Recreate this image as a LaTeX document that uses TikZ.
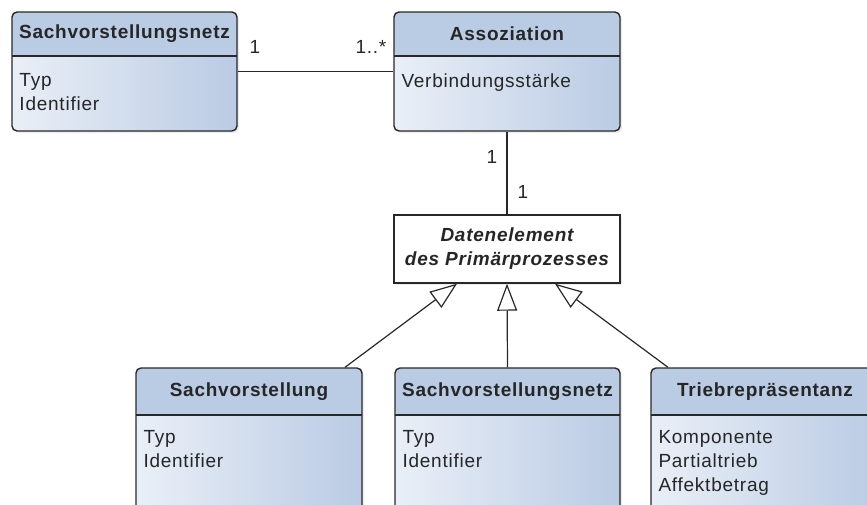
\documentclass[tikz,border=0pt]{standalone}
\usepackage{fontspec}
\setmainfont{Liberation Sans}[LetterSpace=4]
\usetikzlibrary{arrows.meta,shadows}
\definecolor{headblue}{RGB}{185,204,228}
\definecolor{bodylight}{RGB}{234,239,247}
\definecolor{bodyblue}{RGB}{186,203,228}
\definecolor{edgegray}{RGB}{40,40,40}

\begin{document}
\begin{tikzpicture}[x=1pt,y=-1pt,font=\fontsize{19}{24}\selectfont,text=black!85,
 cls/.style={draw=edgegray,line width=1.4pt,rounded corners=5pt,inner sep=0pt,
  left color=bodylight,right color=bodyblue,
  drop shadow={opacity=.15,shadow xshift=2pt,shadow yshift=-2pt},
  path picture={
   \fill[headblue] (path picture bounding box.north west) rectangle ([yshift=-#1]path picture bounding box.north east);
   \draw[edgegray,line width=1.4pt] ([yshift=-#1]path picture bounding box.north west) -- ([yshift=-#1]path picture bounding box.north east);}},
 cls/.default=44pt,
 head/.style={font=\fontsize{19}{24}\selectfont\bfseries,inner sep=0pt},
 attr/.style={align=left,inner sep=0pt,anchor=north west},
 mult/.style={inner sep=0pt},
 link/.style={draw=edgegray,line width=1.2pt},
 gen/.style={link,-{Triangle[open,fill=white,length=27pt,width=20pt]}}]
\useasboundingbox (0,0) rectangle (867,504);

% upper row
\node[cls,minimum width=225pt,minimum height=119pt] (netz) at (124.5,71.5) {};
\node[head] (netzhead) at ([yshift=-22pt]netz.north) {Sachvorstellungsnetz};
\node[attr] (netzattr) at ([xshift=8pt,yshift=-62pt]netz.north west) {Typ\\Identifier};

\node[cls,minimum width=226pt,minimum height=119pt] (assoz) at (507,71.5) {};
\node[head] (assozhead) at ([yshift=-22pt]assoz.north) {Assoziation};
\node[attr] (assozattr) at ([xshift=8pt,yshift=-62pt]assoz.north west) {Verbindungsstärke};

\draw[link] (netz.east) -- (assoz.west);
\node[mult] (m1) at (255,47) {1};
\node[mult] (m2) at (371,47) {1..*};

% abstract class
\node[draw=edgegray,line width=1.4pt,fill=white,
 drop shadow={opacity=.15,shadow xshift=2pt,shadow yshift=-2pt},
 minimum width=226pt,minimum height=68pt,align=center,
 font=\fontsize{19}{24}\selectfont\bfseries\itshape] (dat) at (507,249)
 {Datenelement\\des Primärprozesses};

\draw[link] (assoz.south) -- (dat.north);
\node[mult] (m3) at (492,157) {1};
\node[mult] (m4) at (523,192) {1};

% lower row
\node[cls=47pt,minimum width=226pt,minimum height=162pt] (sv) at (249,449) {};
\node[head] (svhead) at ([yshift=-24pt]sv.north) {Sachvorstellung};
\node[attr] (svattr) at ([xshift=8pt,yshift=-63pt]sv.north west) {Typ\\Identifier};

\node[cls=47pt,minimum width=225pt,minimum height=162pt] (svnetz) at (507.5,449) {};
\node[head] (svnetzhead) at ([yshift=-24pt]svnetz.north) {Sachvorstellungsnetz};
\node[attr] (svnetzattr) at ([xshift=8pt,yshift=-63pt]svnetz.north west) {Typ\\Identifier};

\node[cls=47pt,minimum width=228pt,minimum height=162pt] (trieb) at (765,449) {};
\node[head] (triebhead) at ([yshift=-24pt]trieb.north) {Triebrepräsentanz};
\node[attr] (triebattr) at ([xshift=8pt,yshift=-63pt]trieb.north west) {Komponente\\Partialtrieb\\Affektbetrag};

\draw[gen] ([xshift=96pt]sv.north) -- ([xshift=-50pt]dat.south);
\draw[gen] (svnetz.north) -- (dat.south);
\draw[gen] ([xshift=-97pt]trieb.north) -- ([xshift=48pt]dat.south);
\end{tikzpicture}
\end{document}
